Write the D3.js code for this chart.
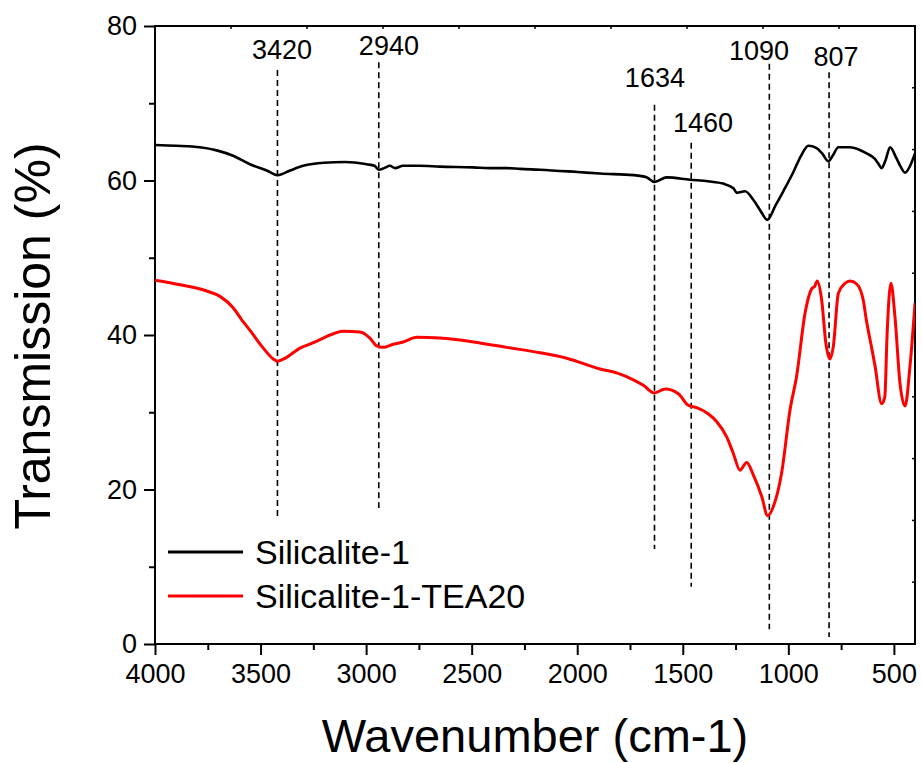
<!DOCTYPE html>
<html><head><meta charset="utf-8">
<script src="https://cdn.jsdelivr.net/npm/d3@7"></script>
<style>body{margin:0;background:#fff}svg{display:block}</style>
</head><body>
<svg id="chart" width="922" height="763"></svg>
<script>
// ---- data ----
const blackWn = [4000,3900,3787,3708,3630,3550,3471,3420,3360,3298,3200,3100,2997,2960,2940,2915,2887,2863,2825,2750,2650,2494,2400,2330,2271,2176,2000,1892,1734,1670,1634,1576,1466,1380,1309,1260,1244,1205,1166,1130,1100,1060,1024,976,940,905,866,840,810,790,763,708,629,590,574,558,540,518,490,470,447,425,400];
const blackT  = [64.6,64.5,64.3,63.9,63.2,62.1,61.3,60.7,61.3,61.9,62.3,62.4,62.1,61.9,61.4,61.6,61.9,61.6,61.9,61.9,61.8,61.7,61.6,61.6,61.5,61.4,61.1,60.9,60.7,60.4,59.8,60.4,60.1,59.9,59.6,59.0,58.4,58.6,57.5,56.0,54.9,56.8,58.6,61.1,63.2,64.5,64.2,63.5,62.5,63.2,64.3,64.3,63.5,62.8,62.2,61.6,62.6,64.3,63.0,61.9,61.0,61.8,63.5];
const redWn = [4000,3880,3755,3692,3629,3590,3550,3487,3440,3420,3390,3313,3250,3203,3108,3029,2982,2950,2919,2871,2824,2760,2650,2492,2334,2176,2050,1892,1813,1734,1687,1635,1584,1521,1474,1434,1380,1340,1292,1261,1229,1197,1166,1126,1098,1071,1032,992,960,921,889,875,863,842,822,803,787,763,731,708,676,645,629,610,590,558,543,532,514,495,471,447,424,400];
const redT  = [47.1,46.5,45.7,45.0,43.5,42.0,40.6,38.3,36.9,36.6,36.9,38.3,39.0,39.6,40.5,40.4,39.6,38.6,38.4,38.8,39.1,39.7,39.6,39.1,38.4,37.7,37.0,35.6,35.1,34.2,33.5,32.5,33.0,32.4,30.9,30.6,29.8,28.8,26.8,24.7,22.5,23.5,21.9,19.1,16.6,17.8,22.1,30.3,34.8,42.8,46.0,46.3,47.0,44.5,38.9,36.9,38.5,45.4,46.7,47.0,46.6,44.5,41.7,39.0,36.1,31.1,32.0,40.2,46.7,42.4,33.7,30.8,35.9,44.1];
const seriesNames = ["Silicalite-1","Silicalite-1-TEA20"];
const peakWn     = [3420,2940,1634,1460,1090,807];
const peakTop    = [74.3,75.3,69.8,64.9,75.1,74.0];
const peakBottom = [16.4,17.6,12.3,7.4,1.9,0.9];
const peakLabelWn = [3398,2892,1632,1404,1139,774];
const peakLabelT  = [75.7,76.2,72.1,66.3,75.6,74.8];
const xTicks = [4000,3500,3000,2500,2000,1500,1000,500];
const yTicks = [0,20,40,60,80];
const xTitle = "Wavenumber (cm-1)";
const yTitle = "Transmission (%)";

// ---- layout ----
const L=155, R=915, T=26, B=644;
const FONT = "'Liberation Sans', Arial, sans-serif";
const svg = d3.select("#chart");
const x = d3.scaleLinear().domain([4000,400]).range([L,R]);
const y = d3.scaleLinear().domain([0,80]).range([B,T]);

const xMinor = d3.range(3750, 400, -500);
const yMinor = d3.range(10, 80, 20);

const gx = svg.append("g").attr("transform",`translate(0,${B})`);
gx.call(d3.axisBottom(x).tickValues(xTicks).tickSize(11).tickPadding(9).tickFormat(d3.format("d")));
gx.append("g").call(d3.axisBottom(x).tickValues(xMinor).tickSize(6).tickFormat(""));
const gy = svg.append("g").attr("transform",`translate(${L},0)`);
gy.call(d3.axisLeft(y).tickValues(yTicks).tickSize(11).tickPadding(7));
gy.append("g").call(d3.axisLeft(y).tickValues(yMinor).tickSize(6).tickFormat(""));
[gx,gy].forEach(g=>{
  g.selectAll("path.domain").remove();
  g.selectAll("line").attr("stroke","#000").attr("stroke-width",2);
  g.selectAll("text").attr("font-family",FONT).attr("font-size",27).attr("fill","#000");
});

// top / right inward small ticks (equal divisions)
const topTicks = d3.range(1,10).map(i=>L+(R-L)*i/10);
svg.append("g").selectAll("line").data(topTicks).join("line")
  .attr("x1",d=>d).attr("x2",d=>d).attr("y1",T).attr("y2",T+3)
  .attr("stroke","#000").attr("stroke-width",1.5);
const rightTicks = d3.range(1,10).map(i=>T+(B-T)*i/10);
svg.append("g").selectAll("line").data(rightTicks).join("line")
  .attr("y1",d=>d).attr("y2",d=>d).attr("x1",R).attr("x2",R-3)
  .attr("stroke","#000").attr("stroke-width",1.5);

// frame
svg.append("rect").attr("x",L).attr("y",T).attr("width",R-L).attr("height",B-T)
  .attr("fill","none").attr("stroke","#000").attr("stroke-width",2);

// dashed peak lines
svg.append("g").selectAll("line").data(peakWn).join("line")
  .attr("x1",d=>x(d)).attr("x2",d=>x(d))
  .attr("y1",(d,i)=>y(peakTop[i])).attr("y2",(d,i)=>y(peakBottom[i]))
  .attr("stroke","#000").attr("stroke-width",1.6).attr("stroke-dasharray","6,4");
svg.append("g").selectAll("text").data(peakWn).join("text")
  .attr("x",(d,i)=>x(peakLabelWn[i])).attr("y",(d,i)=>y(peakLabelT[i]))
  .attr("text-anchor","middle").attr("font-family",FONT).attr("font-size",27)
  .text(d=>d);

// curves
svg.append("clipPath").attr("id","clip").append("rect")
  .attr("x",L).attr("y",T).attr("width",R-L).attr("height",B-T);
const line = d3.line().x(d=>x(d[0])).y(d=>y(d[1])).curve(d3.curveMonotoneX);
svg.append("path").datum(blackWn.map((w,i)=>[w,blackT[i]]))
  .attr("d",line).attr("fill","none").attr("stroke","#000").attr("stroke-width",2.6)
  .attr("stroke-linejoin","round").attr("clip-path","url(#clip)");
svg.append("path").datum(redWn.map((w,i)=>[w,redT[i]]))
  .attr("d",line).attr("fill","none").attr("stroke","#ff0000").attr("stroke-width",3)
  .attr("stroke-linejoin","round").attr("clip-path","url(#clip)");

// legend
const colors = ["#000","#ff0000"];
const lg = svg.append("g");
seriesNames.forEach((n,i)=>{
  const yy = 552 + i*44;
  lg.append("line").attr("x1",168).attr("x2",243).attr("y1",yy).attr("y2",yy)
    .attr("stroke",colors[i]).attr("stroke-width",3);
  lg.append("text").attr("x",255).attr("y",yy+12).attr("font-family",FONT)
    .attr("font-size",34).text(n);
});

// titles
svg.append("text").attr("x",(L+R)/2).attr("y",752).attr("text-anchor","middle")
  .attr("font-family",FONT).attr("font-size",47).text(xTitle);
svg.append("text").attr("transform",`translate(50,336) rotate(-90)`)
  .attr("text-anchor","middle").attr("font-family",FONT).attr("font-size",50).text(yTitle);
</script>
</body></html>
